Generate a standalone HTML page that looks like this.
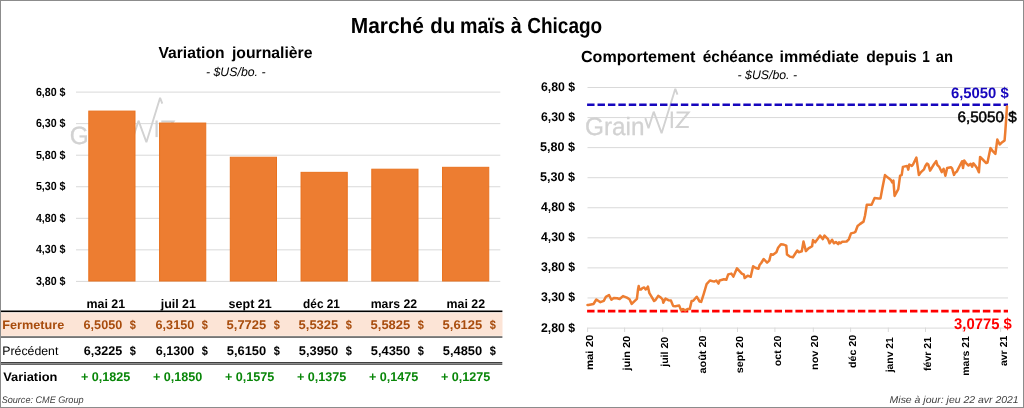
<!DOCTYPE html>
<html><head><meta charset="utf-8"><title>Marché du maïs à Chicago</title><style>html,body{margin:0;padding:0;background:#fff;width:1024px;height:408px;overflow:hidden}svg{display:block;font-family:"Liberation Sans",sans-serif;will-change:transform}</style></head><body>
<svg width="1024" height="408" viewBox="0 0 1024 408" font-family="Liberation Sans, sans-serif" text-rendering="geometricPrecision"><rect x="76" y="91.6" width="424.3" height="1" fill="#d9d9d9"/>
<rect x="76" y="123.15" width="424.3" height="1" fill="#d9d9d9"/>
<rect x="76" y="154.7" width="424.3" height="1" fill="#d9d9d9"/>
<rect x="76" y="186.25" width="424.3" height="1" fill="#d9d9d9"/>
<rect x="76" y="217.8" width="424.3" height="1" fill="#d9d9d9"/>
<rect x="76" y="249.35" width="424.3" height="1" fill="#d9d9d9"/>
<rect x="76" y="280.9" width="424.3" height="1" fill="#d9d9d9"/>
<text x="69.8" y="143.5" font-size="25" font-weight="normal" fill="#d2d2d2" stroke="#d2d2d2" stroke-width="0.3" textLength="59.5" lengthAdjust="spacingAndGlyphs">Grain</text><polyline fill="none" stroke="#d2d2d2" stroke-width="1.9" stroke-linejoin="miter" stroke-miterlimit="3" points="130.1,127.1 133.3,137.1 138.5,120.7 146.4,142.2 160.1,97.8 162.3,103.7"/><rect x="155.5" y="120.5" width="2.2" height="16.6" fill="#d2d2d2"/><polyline fill="none" stroke="#d2d2d2" stroke-width="2" stroke-linejoin="miter" points="161.3,121.5 173.4,121.5 161.6,136.1 173.6,136.1"/>
<rect x="88.8" y="111.09" width="46.2" height="169.91" fill="#ED7D31" stroke="#E9721F" stroke-width="1"/>
<rect x="159.55" y="123.05" width="46.2" height="157.95" fill="#ED7D31" stroke="#E9721F" stroke-width="1"/>
<rect x="230.3" y="157.23" width="46.2" height="123.77" fill="#ED7D31" stroke="#E9721F" stroke-width="1"/>
<rect x="301.05" y="172.35" width="46.2" height="108.65" fill="#ED7D31" stroke="#E9721F" stroke-width="1"/>
<rect x="371.8" y="169.2" width="46.2" height="111.8" fill="#ED7D31" stroke="#E9721F" stroke-width="1"/>
<rect x="442.55" y="167.31" width="46.2" height="113.69" fill="#ED7D31" stroke="#E9721F" stroke-width="1"/>
<text x="158.5" y="57.7" font-size="16.0" font-weight="bold" font-style="normal" fill="#000" textLength="66.07" lengthAdjust="spacingAndGlyphs">Variation</text>
<text x="231.9" y="57.7" font-size="16.0" font-weight="bold" font-style="normal" fill="#000" textLength="80.62" lengthAdjust="spacingAndGlyphs">journalière</text>
<text x="206.01" y="76.3" font-size="12.4" font-weight="normal" font-style="italic" fill="#000" textLength="59.52" lengthAdjust="spacingAndGlyphs">- $US/bo. -</text>
<text x="35.9" y="95.8" font-size="11.8" font-weight="bold" font-style="normal" fill="#000" textLength="29.63" lengthAdjust="spacingAndGlyphs">6,80 $</text>
<text x="35.9" y="127.3" font-size="11.8" font-weight="bold" font-style="normal" fill="#000" textLength="29.63" lengthAdjust="spacingAndGlyphs">6,30 $</text>
<text x="35.9" y="158.8" font-size="11.8" font-weight="bold" font-style="normal" fill="#000" textLength="29.63" lengthAdjust="spacingAndGlyphs">5,80 $</text>
<text x="35.9" y="190.3" font-size="11.8" font-weight="bold" font-style="normal" fill="#000" textLength="29.63" lengthAdjust="spacingAndGlyphs">5,30 $</text>
<text x="35.9" y="221.8" font-size="11.8" font-weight="bold" font-style="normal" fill="#000" textLength="29.63" lengthAdjust="spacingAndGlyphs">4,80 $</text>
<text x="35.9" y="253.3" font-size="11.8" font-weight="bold" font-style="normal" fill="#000" textLength="29.63" lengthAdjust="spacingAndGlyphs">4,30 $</text>
<text x="35.9" y="284.8" font-size="11.8" font-weight="bold" font-style="normal" fill="#000" textLength="29.63" lengthAdjust="spacingAndGlyphs">3,80 $</text>
<rect x="1" y="312" width="501.4" height="24.3" fill="#FEF3EC"/>
<rect x="1" y="313.2" width="501.4" height="22.5" fill="#FCE4D6"/>
<rect x="0" y="310.5" width="502.4" height="1.6" fill="#000"/>
<rect x="1" y="336.3" width="501.4" height="1.5" fill="#555"/>
<rect x="1" y="362" width="501.3" height="1" fill="#404040"/>
<rect x="1" y="363" width="501.3" height="0.9" fill="#8a8a8a"/>
<rect x="1" y="363.9" width="501.3" height="0.9" fill="#404040"/>
<text x="86.51" y="307.7" font-size="12.5" font-weight="bold" font-style="normal" fill="#000" textLength="38.61" lengthAdjust="spacingAndGlyphs">mai 21</text>
<text x="160.7" y="307.7" font-size="12.5" font-weight="bold" font-style="normal" fill="#000" textLength="35.24" lengthAdjust="spacingAndGlyphs">juil 21</text>
<text x="228.6" y="307.7" font-size="12.5" font-weight="bold" font-style="normal" fill="#000" textLength="43.2" lengthAdjust="spacingAndGlyphs">sept 21</text>
<text x="303.1" y="307.7" font-size="12.5" font-weight="bold" font-style="normal" fill="#000" textLength="36.83" lengthAdjust="spacingAndGlyphs">déc 21</text>
<text x="370.72" y="307.7" font-size="12.5" font-weight="bold" font-style="normal" fill="#000" textLength="46.34" lengthAdjust="spacingAndGlyphs">mars 22</text>
<text x="446.61" y="307.7" font-size="12.5" font-weight="bold" font-style="normal" fill="#000" textLength="38.51" lengthAdjust="spacingAndGlyphs">mai 22</text>
<text x="2.27" y="328.6" font-size="12.3" font-weight="bold" font-style="normal" fill="#A84C0D" textLength="61.98" lengthAdjust="spacingAndGlyphs">Fermeture</text>
<text x="2.29" y="354.5" font-size="12.2" font-weight="normal" font-style="normal" fill="#000" textLength="56.07" lengthAdjust="spacingAndGlyphs">Précédent</text>
<text x="3.2" y="380.6" font-size="12.3" font-weight="bold" font-style="normal" fill="#000" textLength="54.18" lengthAdjust="spacingAndGlyphs">Variation</text>
<text x="1.65" y="402.7" font-size="9.6" font-weight="normal" font-style="italic" fill="#404040" textLength="81.92" lengthAdjust="spacingAndGlyphs">Source: CME Group</text>
<text x="83.6" y="328.6" font-size="12.6" font-weight="bold" font-style="normal" fill="#A84C0D" textLength="38.63" lengthAdjust="spacingAndGlyphs">6,5050</text>
<text x="129.8" y="328.6" font-size="12.6" font-weight="bold" font-style="normal" fill="#A84C0D" textLength="6.11" lengthAdjust="spacingAndGlyphs">$</text>
<text x="83.8" y="354.5" font-size="12.6" font-weight="bold" font-style="normal" fill="#000" textLength="38.43" lengthAdjust="spacingAndGlyphs">6,3225</text>
<text x="129.8" y="354.5" font-size="12.6" font-weight="bold" font-style="normal" fill="#000" textLength="6.11" lengthAdjust="spacingAndGlyphs">$</text>
<text x="81" y="380.6" font-size="12.6" font-weight="bold" font-style="normal" fill="#0a870a" textLength="49.38" lengthAdjust="spacingAndGlyphs">+ 0,1825</text>
<text x="155.6" y="328.6" font-size="12.6" font-weight="bold" font-style="normal" fill="#A84C0D" textLength="38.63" lengthAdjust="spacingAndGlyphs">6,3150</text>
<text x="201.8" y="328.6" font-size="12.6" font-weight="bold" font-style="normal" fill="#A84C0D" textLength="6.11" lengthAdjust="spacingAndGlyphs">$</text>
<text x="155.8" y="354.5" font-size="12.6" font-weight="bold" font-style="normal" fill="#000" textLength="38.43" lengthAdjust="spacingAndGlyphs">6,1300</text>
<text x="201.8" y="354.5" font-size="12.6" font-weight="bold" font-style="normal" fill="#000" textLength="6.11" lengthAdjust="spacingAndGlyphs">$</text>
<text x="153" y="380.6" font-size="12.6" font-weight="bold" font-style="normal" fill="#0a870a" textLength="49.38" lengthAdjust="spacingAndGlyphs">+ 0,1850</text>
<text x="226.57" y="328.6" font-size="12.6" font-weight="bold" font-style="normal" fill="#A84C0D" textLength="39.68" lengthAdjust="spacingAndGlyphs">5,7725</text>
<text x="273.8" y="328.6" font-size="12.6" font-weight="bold" font-style="normal" fill="#A84C0D" textLength="6.11" lengthAdjust="spacingAndGlyphs">$</text>
<text x="226.78" y="354.5" font-size="12.6" font-weight="bold" font-style="normal" fill="#000" textLength="39.47" lengthAdjust="spacingAndGlyphs">5,6150</text>
<text x="273.8" y="354.5" font-size="12.6" font-weight="bold" font-style="normal" fill="#000" textLength="6.11" lengthAdjust="spacingAndGlyphs">$</text>
<text x="225" y="380.6" font-size="12.6" font-weight="bold" font-style="normal" fill="#0a870a" textLength="49.38" lengthAdjust="spacingAndGlyphs">+ 0,1575</text>
<text x="298.57" y="328.6" font-size="12.6" font-weight="bold" font-style="normal" fill="#A84C0D" textLength="39.68" lengthAdjust="spacingAndGlyphs">5,5325</text>
<text x="345.8" y="328.6" font-size="12.6" font-weight="bold" font-style="normal" fill="#A84C0D" textLength="6.11" lengthAdjust="spacingAndGlyphs">$</text>
<text x="298.78" y="354.5" font-size="12.6" font-weight="bold" font-style="normal" fill="#000" textLength="39.47" lengthAdjust="spacingAndGlyphs">5,3950</text>
<text x="345.8" y="354.5" font-size="12.6" font-weight="bold" font-style="normal" fill="#000" textLength="6.11" lengthAdjust="spacingAndGlyphs">$</text>
<text x="297" y="380.6" font-size="12.6" font-weight="bold" font-style="normal" fill="#0a870a" textLength="49.38" lengthAdjust="spacingAndGlyphs">+ 0,1375</text>
<text x="370.57" y="328.6" font-size="12.6" font-weight="bold" font-style="normal" fill="#A84C0D" textLength="39.68" lengthAdjust="spacingAndGlyphs">5,5825</text>
<text x="417.8" y="328.6" font-size="12.6" font-weight="bold" font-style="normal" fill="#A84C0D" textLength="6.11" lengthAdjust="spacingAndGlyphs">$</text>
<text x="370.78" y="354.5" font-size="12.6" font-weight="bold" font-style="normal" fill="#000" textLength="39.47" lengthAdjust="spacingAndGlyphs">5,4350</text>
<text x="417.8" y="354.5" font-size="12.6" font-weight="bold" font-style="normal" fill="#000" textLength="6.11" lengthAdjust="spacingAndGlyphs">$</text>
<text x="369" y="380.6" font-size="12.6" font-weight="bold" font-style="normal" fill="#0a870a" textLength="49.38" lengthAdjust="spacingAndGlyphs">+ 0,1475</text>
<text x="442.57" y="328.6" font-size="12.6" font-weight="bold" font-style="normal" fill="#A84C0D" textLength="39.68" lengthAdjust="spacingAndGlyphs">5,6125</text>
<text x="489.8" y="328.6" font-size="12.6" font-weight="bold" font-style="normal" fill="#A84C0D" textLength="6.11" lengthAdjust="spacingAndGlyphs">$</text>
<text x="442.78" y="354.5" font-size="12.6" font-weight="bold" font-style="normal" fill="#000" textLength="39.47" lengthAdjust="spacingAndGlyphs">5,4850</text>
<text x="489.8" y="354.5" font-size="12.6" font-weight="bold" font-style="normal" fill="#000" textLength="6.11" lengthAdjust="spacingAndGlyphs">$</text>
<text x="441" y="380.6" font-size="12.6" font-weight="bold" font-style="normal" fill="#0a870a" textLength="49.38" lengthAdjust="spacingAndGlyphs">+ 0,1275</text>
<rect x="587.5" y="87" width="420.5" height="1" fill="#d9d9d9"/>
<rect x="587.5" y="117.06" width="420.5" height="1" fill="#d9d9d9"/>
<rect x="587.5" y="147.12" width="420.5" height="1" fill="#d9d9d9"/>
<rect x="587.5" y="177.19" width="420.5" height="1" fill="#d9d9d9"/>
<rect x="587.5" y="207.25" width="420.5" height="1" fill="#d9d9d9"/>
<rect x="587.5" y="237.31" width="420.5" height="1" fill="#d9d9d9"/>
<rect x="587.5" y="267.38" width="420.5" height="1" fill="#d9d9d9"/>
<rect x="587.5" y="297.44" width="420.5" height="1" fill="#d9d9d9"/>
<rect x="587.5" y="327.6" width="420.5" height="1" fill="#d9d9d9"/>
<rect x="587.1" y="327.6" width="1" height="4.4" fill="#d9d9d9"/>
<rect x="624.1" y="327.6" width="1" height="4.4" fill="#d9d9d9"/>
<rect x="662.2" y="327.6" width="1" height="4.4" fill="#d9d9d9"/>
<rect x="699.8" y="327.6" width="1" height="4.4" fill="#d9d9d9"/>
<rect x="737" y="327.6" width="1" height="4.4" fill="#d9d9d9"/>
<rect x="774.4" y="327.6" width="1" height="4.4" fill="#d9d9d9"/>
<rect x="812.8" y="327.6" width="1" height="4.4" fill="#d9d9d9"/>
<rect x="850.1" y="327.6" width="1" height="4.4" fill="#d9d9d9"/>
<rect x="887.8" y="327.6" width="1" height="4.4" fill="#d9d9d9"/>
<rect x="925" y="327.6" width="1" height="4.4" fill="#d9d9d9"/>
<rect x="962.5" y="327.6" width="1" height="4.4" fill="#d9d9d9"/>
<rect x="1000.1" y="327.6" width="1" height="4.4" fill="#d9d9d9"/>
<text x="585" y="134.5" font-size="25" font-weight="normal" fill="#d2d2d2" stroke="#d2d2d2" stroke-width="0.3" textLength="59.5" lengthAdjust="spacingAndGlyphs">Grain</text><polyline fill="none" stroke="#d2d2d2" stroke-width="1.9" stroke-linejoin="miter" stroke-miterlimit="3" points="645.3,118.1 648.5,128.1 653.7,111.7 661.6,133.2 675.3,88.8 677.5,94.7"/><rect x="670.7" y="111.5" width="2.2" height="16.6" fill="#d2d2d2"/><polyline fill="none" stroke="#d2d2d2" stroke-width="2" stroke-linejoin="miter" points="676.5,112.5 688.6,112.5 676.8,127.1 688.8,127.1"/>
<line x1="587.1" y1="104.7" x2="1008" y2="104.7" stroke="#1606bd" stroke-width="2.6" stroke-dasharray="7.45 2.965"/>
<line x1="587.1" y1="311.1" x2="1008" y2="311.1" stroke="#ff0000" stroke-width="2.6" stroke-dasharray="7.45 2.965"/>
<text x="580.99" y="61.5" font-size="16.0" font-weight="bold" font-style="normal" fill="#000" textLength="114.49" lengthAdjust="spacingAndGlyphs">Comportement</text>
<text x="702.73" y="61.5" font-size="16.0" font-weight="bold" font-style="normal" fill="#000" textLength="70.51" lengthAdjust="spacingAndGlyphs">échéance</text>
<text x="779.6" y="61.5" font-size="16.0" font-weight="bold" font-style="normal" fill="#000" textLength="79.24" lengthAdjust="spacingAndGlyphs">immédiate</text>
<text x="866.32" y="61.5" font-size="16.0" font-weight="bold" font-style="normal" fill="#000" textLength="50.43" lengthAdjust="spacingAndGlyphs">depuis</text>
<text x="922.15" y="61.5" font-size="16.0" font-weight="bold" font-style="normal" fill="#000" textLength="7.57" lengthAdjust="spacingAndGlyphs">1</text>
<text x="935.7" y="61.5" font-size="16.0" font-weight="bold" font-style="normal" fill="#000" textLength="17.22" lengthAdjust="spacingAndGlyphs">an</text>
<text x="737.61" y="78.8" font-size="12.4" font-weight="normal" font-style="italic" fill="#000" textLength="59.41" lengthAdjust="spacingAndGlyphs">- $US/bo. -</text>
<text x="540.9" y="91" font-size="12.6" font-weight="bold" font-style="normal" fill="#000" textLength="34.12" lengthAdjust="spacingAndGlyphs">6,80 $</text>
<text x="540.9" y="121.06" font-size="12.6" font-weight="bold" font-style="normal" fill="#000" textLength="34.12" lengthAdjust="spacingAndGlyphs">6,30 $</text>
<text x="539.9" y="151.12" font-size="12.6" font-weight="bold" font-style="normal" fill="#000" textLength="35.12" lengthAdjust="spacingAndGlyphs">5,80 $</text>
<text x="539.9" y="181.19" font-size="12.6" font-weight="bold" font-style="normal" fill="#000" textLength="35.12" lengthAdjust="spacingAndGlyphs">5,30 $</text>
<text x="540.9" y="211.25" font-size="12.6" font-weight="bold" font-style="normal" fill="#000" textLength="34.12" lengthAdjust="spacingAndGlyphs">4,80 $</text>
<text x="540.9" y="241.31" font-size="12.6" font-weight="bold" font-style="normal" fill="#000" textLength="34.12" lengthAdjust="spacingAndGlyphs">4,30 $</text>
<text x="540.9" y="271.38" font-size="12.6" font-weight="bold" font-style="normal" fill="#000" textLength="34.12" lengthAdjust="spacingAndGlyphs">3,80 $</text>
<text x="540.9" y="301.44" font-size="12.6" font-weight="bold" font-style="normal" fill="#000" textLength="34.12" lengthAdjust="spacingAndGlyphs">3,30 $</text>
<text x="540.9" y="331.5" font-size="12.6" font-weight="bold" font-style="normal" fill="#000" textLength="34.12" lengthAdjust="spacingAndGlyphs">2,80 $</text>
<text x="950.9" y="98.2" font-size="15.0" font-weight="bold" font-style="normal" fill="#1606bd" textLength="57.79" lengthAdjust="spacingAndGlyphs">6,5050 $</text>
<text x="957.49" y="121.8" font-size="15.0" font-weight="normal" font-style="normal" fill="#000" stroke="#000" stroke-width="0.5" textLength="59.11" lengthAdjust="spacingAndGlyphs">6,5050 $</text>
<text x="954" y="329.4" font-size="15.4" font-weight="bold" font-style="normal" fill="#ff0000" textLength="57.82" lengthAdjust="spacingAndGlyphs">3,0775 $</text>
<text x="889.6" y="402.9" font-size="10.0" font-weight="normal" font-style="italic" fill="#404040" textLength="129.07" lengthAdjust="spacingAndGlyphs">Mise à jour: jeu 22 avr 2021</text>
<text transform="translate(593.2,370.12) rotate(-90)" x="0" y="0" font-size="10.2" font-weight="bold" fill="#000" textLength="35.42" lengthAdjust="spacingAndGlyphs">mai 20</text><text transform="translate(630.3,370.5) rotate(-90)" x="0" y="0" font-size="10.2" font-weight="bold" fill="#000" textLength="34.7" lengthAdjust="spacingAndGlyphs">juin 20</text><text transform="translate(668,366.8) rotate(-90)" x="0" y="0" font-size="10.2" font-weight="bold" fill="#000" textLength="29.99" lengthAdjust="spacingAndGlyphs">juil 20</text><text transform="translate(705.6,373.5) rotate(-90)" x="0" y="0" font-size="10.2" font-weight="bold" fill="#000" textLength="38.12" lengthAdjust="spacingAndGlyphs">août 20</text><text transform="translate(743,373.36) rotate(-90)" x="0" y="0" font-size="10.2" font-weight="bold" fill="#000" textLength="37.38" lengthAdjust="spacingAndGlyphs">sept 20</text><text transform="translate(781,366.2) rotate(-90)" x="0" y="0" font-size="10.2" font-weight="bold" fill="#000" textLength="30.57" lengthAdjust="spacingAndGlyphs">oct 20</text><text transform="translate(818.1,370.08) rotate(-90)" x="0" y="0" font-size="10.2" font-weight="bold" fill="#000" textLength="34.88" lengthAdjust="spacingAndGlyphs">nov 20</text><text transform="translate(855.5,368) rotate(-90)" x="0" y="0" font-size="10.2" font-weight="bold" fill="#000" textLength="33.25" lengthAdjust="spacingAndGlyphs">déc 20</text><text transform="translate(892.9,372.3) rotate(-90)" x="0" y="0" font-size="10.2" font-weight="bold" fill="#000" textLength="35.16" lengthAdjust="spacingAndGlyphs">janv 21</text><text transform="translate(930.5,371) rotate(-90)" x="0" y="0" font-size="10.2" font-weight="bold" fill="#000" textLength="34.15" lengthAdjust="spacingAndGlyphs">févr 21</text><text transform="translate(968.5,375.73) rotate(-90)" x="0" y="0" font-size="10.2" font-weight="bold" fill="#000" textLength="39.57" lengthAdjust="spacingAndGlyphs">mars 21</text><text transform="translate(1006.5,366.1) rotate(-90)" x="0" y="0" font-size="10.2" font-weight="bold" fill="#000" textLength="30.48" lengthAdjust="spacingAndGlyphs">avr 21</text>
<polyline fill="none" stroke="#ED7D31" stroke-width="2.5" stroke-linejoin="round" stroke-linecap="round" points="587.5,305 588.4,305 593.5,304 596.3,299.5 600.4,302.2 603.8,300.9 605.9,296.8 609,295 611.4,299.7 613.8,297.9 617.2,298.3 619.6,299 623,296.1 626.9,297.6 629.5,299.3 631.7,303.9 634.3,301.3 636.9,298.8 638,289.6 638.7,285.9 639.4,289.2 640.9,289.6 642.4,288.1 644.2,287.4 645.7,289.4 646.8,288.7 647.9,286.6 649.4,293.2 651.2,296.2 654.1,301 655.6,299.9 658.2,295.8 660.8,297.5 662.6,299.5 663.3,302.7 665.5,298.6 668.4,300.2 670.9,300.5 673.1,305.9 675.4,306.2 679.2,305.6 681.1,310.4 683,309.1 685.2,310.4 687.5,309.1 689.7,309.1 691.6,301.1 693.2,300.8 696.7,296.7 699.6,301.5 701.2,301.9 703.9,293.3 706.6,284.1 709.9,280.5 714.2,281.6 716.3,280.5 718.5,283.6 719.6,280.5 723.9,279.3 726.3,279.8 728.2,274.4 731.4,273.6 733.4,276.6 737,268.3 741.8,273.6 743.9,274.7 744.7,278.1 747.7,275.7 750.7,276.8 753.1,266.2 755.8,268 758.5,268.7 759.6,265 761.2,263 763.7,259 767.1,262.6 769.3,260.6 770.9,254.2 773,254.7 776.4,252.2 778.1,247.7 780.9,244.2 782.9,244.4 786.3,245.7 787,254.6 789.8,256.6 792.9,257.3 795.3,253.5 797.3,250.5 798.7,252.2 801.8,251.3 803.5,241.5 805.9,251.1 808.5,248.4 812.1,246.2 813,240.1 815.2,242.3 817.8,238.8 820,235.6 822.9,239.1 824.5,235.6 828,239.1 829.6,243.3 832.1,239.8 834,243.3 835.9,242 838.2,244.2 839.1,242.3 840.7,243.2 842.3,241.7 846.6,241.5 848.8,239.3 851,233.4 854,232.6 855.4,231.9 856.2,229.7 857.6,226 859.9,224.1 863.5,221.6 865,215.7 866.8,204.7 871.6,204.7 874.6,198.1 878.5,198.5 880.5,198.4 882.4,188 885,175.1 887.9,177.6 890.9,180 892.2,182.5 893.4,180.6 894.6,196 898.3,189.2 900.1,175.7 901.7,175.1 902.9,166.9 907.1,165.9 908.3,169.6 909.3,164.5 911.8,165.9 913,164.5 916.4,157.6 918.9,175.1 921,172.1 924,169.4 925.2,166.3 927,163.5 928.3,164.5 930.1,170.6 933.8,164.5 936.2,161.1 937.4,165.1 939.3,166.9 941.7,172.1 943.6,168.8 945.4,175.8 947.2,167.9 950.9,167.2 952.1,168.4 954,174.9 955,172.9 956.8,171.6 959.9,165.5 962.1,161.2 963,168 964.2,160.6 966,163.1 968.5,165.5 970.7,163.7 972.1,166.7 973.4,163.3 975.2,165.5 977,168 978.9,172.3 980.1,156.9 983.2,160 986.2,163.1 987.5,162.5 990.5,148.1 993,151.4 995.4,153.9 997.3,139.6 999.7,144.5 1002.2,142.2 1004.6,140.4 1005.3,131.6 1007,106.6"/>
<text x="350.74" y="32.9" font-size="21.9" font-weight="bold" font-style="normal" fill="#000" textLength="73.28" lengthAdjust="spacingAndGlyphs">Marché</text>
<text x="430.17" y="32.9" font-size="21.9" font-weight="bold" font-style="normal" fill="#000" textLength="24.97" lengthAdjust="spacingAndGlyphs">du</text>
<text x="460.1" y="32.9" font-size="21.9" font-weight="bold" font-style="normal" fill="#000" textLength="44.81" lengthAdjust="spacingAndGlyphs">maïs</text>
<text x="510.8" y="32.9" font-size="21.9" font-weight="bold" font-style="normal" fill="#000" textLength="10.97" lengthAdjust="spacingAndGlyphs">à</text>
<text x="527.23" y="32.9" font-size="21.9" font-weight="bold" font-style="normal" fill="#000" textLength="74.98" lengthAdjust="spacingAndGlyphs">Chicago</text>
<rect x="0.5" y="0.5" width="1023" height="407" fill="none" stroke="#8c8c8c" stroke-width="1"/></svg>
</body></html>
